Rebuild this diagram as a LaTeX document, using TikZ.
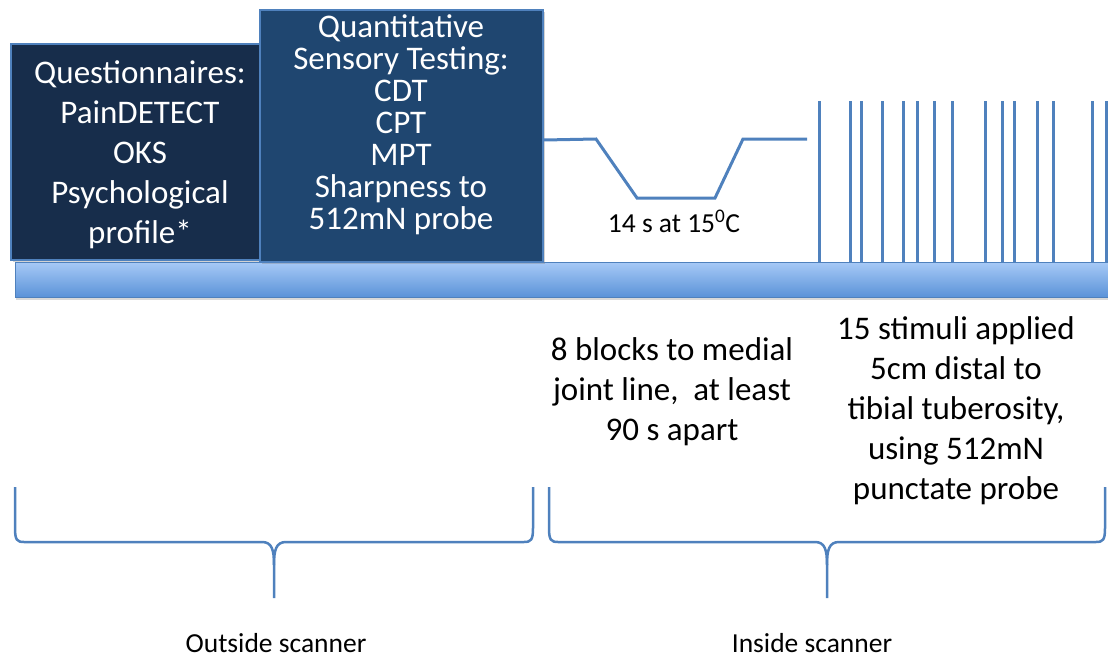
\documentclass[tikz,border=0pt]{standalone}
\usepackage{fontspec}
\setmainfont{Carlito}
\usepackage{tikz}
\usetikzlibrary{shadows}
\usepackage{xcolor}
\definecolor{BoxDark}{HTML}{172D4B}
\definecolor{BoxMid}{HTML}{1F4670}
\definecolor{LineBlue}{HTML}{4F81BD}
\definecolor{BarTop}{HTML}{A6C9F6}
\definecolor{BarBottom}{HTML}{5A92D8}
\tikzset{
  taskbox/.style={draw=LineBlue,line width=1.5pt,inner sep=0pt,drop shadow={opacity=0.35,shadow xshift=2pt,shadow yshift=-2pt}},
  boxtext/.style={text=white,align=center,inner sep=0pt,font=\fontsize{33}{40}\selectfont},
  notetext/.style={text=black,align=center,inner sep=0pt,font=\fontsize{33}{40}\selectfont},
  smalltext/.style={text=black,inner sep=0pt,font=\fontsize{27.5}{32}\selectfont},
  trace/.style={draw=LineBlue,line width=3pt},
  bracepath/.style={draw=LineBlue,line width=2.5pt}
}

\begin{document}
\begin{tikzpicture}[x=1pt,y=-1pt]
\useasboundingbox (0,0) rectangle (1108,659);
% timeline bar
\node[draw=LineBlue,line width=0.8pt,top color=BarTop,bottom color=BarBottom,inner sep=0pt,minimum width=1093pt,minimum height=35pt,anchor=north west,drop shadow={opacity=0.3,shadow xshift=1pt,shadow yshift=-3pt}] (bar) at (15,262) {};
% task boxes
\node[taskbox,fill=BoxDark,minimum width=251pt,minimum height=216pt] (quest) at (136.5,152) {};
\node[boxtext] (questtxt) at (140,155) {Questionnaires:\\PainDETECT\\OKS\\Psychological\\profile*};
\node[taskbox,fill=BoxMid,minimum width=283pt,minimum height=252pt] (qst) at (401.5,136) {};
\node[boxtext,font=\fontsize{33}{32}\selectfont] (qsttxt) at (401,125) {Quantitative\\Sensory Testing:\\CDT\\CPT\\MPT\\Sharpness to\\512mN probe};
% cold block
\draw[trace] (qst.east |- 0,140) -- (596,139) -- (637,198) -- (715,198) -- (743,139) -- (807,139);
\node[smalltext,anchor=base] (coldtxt) at (674,232) {14 s at 15\textsuperscript{0}C};
% punctate stimuli
\foreach \sx in {819,850,861,882,903,917,934,952,985,1002,1014,1037,1053,1092,1106}
  \draw[trace] (\sx,101) -- (\sx,101 |- bar.north);
% notes
\node[notetext] (blocktxt) at (672,392) {8 blocks to medial\\joint line,~ at least\\90 s apart};
\node[notetext] (stimtxt) at (956,411) {15 stimuli applied\\5cm distal to\\tibial tuberosity,\\using 512mN\\punctate probe};
% braces
\draw[bracepath] (15,487) -- (15,528) .. controls (15,540) and (17,542) .. (24,542) -- (262,542)
  .. controls (272,542) and (274,550) .. (274,565) -- (274,598);
\draw[bracepath] (533,487) -- (533,528) .. controls (533,540) and (531,542) .. (524,542) -- (286,542)
  .. controls (276,542) and (274,550) .. (274,565);
\draw[bracepath] (549,487) -- (549,528) .. controls (549,540) and (551,542) .. (558,542) -- (815,542)
  .. controls (825,542) and (827,550) .. (827,565) -- (827,598);
\draw[bracepath] (1105,487) -- (1105,528) .. controls (1105,540) and (1103,542) .. (1096,542) -- (839,542)
  .. controls (829,542) and (827,550) .. (827,565);
\node[smalltext,anchor=base] (outtxt) at (276,652) {Outside scanner};
\node[smalltext,anchor=base] (intxt) at (812,652) {Inside scanner};
\end{tikzpicture}
\end{document}
